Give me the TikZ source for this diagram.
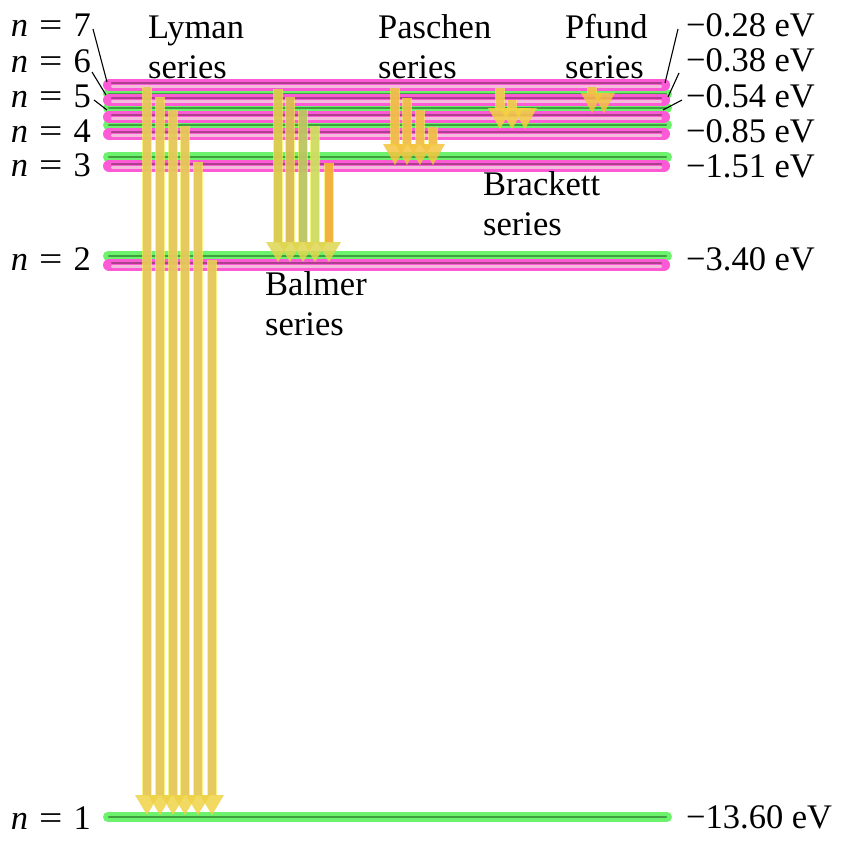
\documentclass[tikz,border=0pt]{standalone}
\usepackage{fontspec}
\setmainfont{Liberation Serif}
\usetikzlibrary{arrows.meta}
\definecolor{lgreen}{RGB}{108,242,108}
\definecolor{dgreen}{RGB}{62,160,62}
\definecolor{mag}{RGB}{255,90,214}
\definecolor{mpurple}{RGB}{172,64,142}
\definecolor{mpink}{RGB}{244,188,220}
\definecolor{lymanbar}{RGB}{228,196,90}
\definecolor{lymanhead}{RGB}{238,210,70}
\definecolor{edgey}{RGB}{246,238,80}
\definecolor{balA}{RGB}{214,198,76}
\definecolor{balB}{RGB}{214,182,86}
\definecolor{balC}{RGB}{182,192,100}
\definecolor{balD}{RGB}{202,220,100}
\definecolor{balE}{RGB}{242,168,52}
\definecolor{balhead}{RGB}{222,214,80}
\definecolor{pasbar}{RGB}{240,184,74}
\definecolor{pashead}{RGB}{244,196,64}
\definecolor{brabar}{RGB}{240,196,80}
\definecolor{brahead}{RGB}{242,210,66}
\definecolor{pfbar}{RGB}{242,190,70}
\definecolor{pfhead}{RGB}{240,196,64}
\begin{document}
\begin{tikzpicture}[x=1pt,y=-1pt,
  lbl/.style={font=\fontsize{34.5}{40}\selectfont, inner sep=0pt},
  glvl/.style={draw=lgreen, line width=10pt, line cap=round},
  glvlin/.style={draw=dgreen, line width=2.4pt, line cap=round},
  mlvl/.style={draw=mag, line width=12pt, line cap=round},
  mlvlpur/.style={draw=mpurple, line width=2.4pt, line cap=round},
  mlvlpink/.style={draw=mpink, line width=2.2pt, line cap=round},
  leader/.style={draw=black, line width=1.1pt},
  trans/.style={line width=7.5pt, opacity=0.85,
     preaction={draw=edgey, line width=9.5pt, -, shorten >=19pt, opacity=0.7}},
  lyarr/.style={trans, draw=lymanbar, -{Triangle[width=24pt,length=20pt,line width=0pt,fill=lymanhead]}},
  baarr/.style={trans, draw=#1, -{Triangle[width=24pt,length=20pt,line width=0pt,fill=balhead]}},
  paarr/.style={trans, draw=pasbar, -{Triangle[width=24pt,length=21pt,line width=0pt,fill=pashead]}},
  brarr/.style={trans, draw=brabar, -{Triangle[width=24pt,length=21pt,line width=0pt,fill=brahead]}},
  pfarr/.style={trans, draw=pfbar, -{Triangle[width=22pt,length=20pt,line width=0pt,fill=pfhead]}},
]
\useasboundingbox (0,0) rectangle (850,843);

% green level lines
\foreach \y in {817,256,157,125,108,94} {
  \draw[glvl] (108,\y) -- (667,\y);
  \draw[glvlin] (109,\y) -- (666,\y);
}
% magenta level lines
\foreach \y in {265,166,134,117,100,85} {
  \draw[mlvl] (109,\y) -- (664,\y);
  \draw[mlvlpur] (112,\y-1.8) -- (661,\y-1.8);
  \draw[mlvlpink] (112,\y+1.4) -- (661,\y+1.4);
}

% left labels
\node[lbl, anchor=base east] (n7) at (91,37) {\textit{n}\hspace{11pt}\scalebox{1.2}[1]{=}\hspace{11pt}7};
\node[lbl, anchor=base east] (n6) at (91,72) {\textit{n}\hspace{11pt}\scalebox{1.2}[1]{=}\hspace{11pt}6};
\node[lbl, anchor=base east] (n5) at (91,107) {\textit{n}\hspace{11pt}\scalebox{1.2}[1]{=}\hspace{11pt}5};
\node[lbl, anchor=base east] (n4) at (91,142) {\textit{n}\hspace{11pt}\scalebox{1.2}[1]{=}\hspace{11pt}4};
\node[lbl, anchor=base east] (n3) at (91,176) {\textit{n}\hspace{11pt}\scalebox{1.2}[1]{=}\hspace{11pt}3};
\node[lbl, anchor=base east] (n2) at (91,270) {\textit{n}\hspace{11pt}\scalebox{1.2}[1]{=}\hspace{11pt}2};
\node[lbl, anchor=base east] (n1) at (91,829) {\textit{n}\hspace{11pt}\scalebox{1.2}[1]{=}\hspace{11pt}1};

% right labels
\node[lbl, anchor=base west] (e7) at (686,37) {−0.28 eV};
\node[lbl, anchor=base west] (e6) at (686,71) {−0.38 eV};
\node[lbl, anchor=base west] (e5) at (686,107) {−0.54 eV};
\node[lbl, anchor=base west] (e4) at (686,142) {−0.85 eV};
\node[lbl, anchor=base west] (e3) at (686,177) {−1.51 eV};
\node[lbl, anchor=base west] (e2) at (686,270) {−3.40 eV};
\node[lbl, anchor=base west] (e1) at (686,828) {−13.60 eV};

% leader lines
\coordinate (l7a) at (93,29);  \coordinate (l7b) at (107,82);
\coordinate (l6a) at (92,72);  \coordinate (l6b) at (106,95);
\coordinate (l5a) at (94,100); \coordinate (l5b) at (107,110);
\coordinate (r7a) at (678,29); \coordinate (r7b) at (665,83);
\coordinate (r6a) at (679,73); \coordinate (r6b) at (668,97);
\coordinate (r5a) at (682,100);\coordinate (r5b) at (663,110);
\draw[leader] (l7a) -- (l7b);
\draw[leader] (l6a) -- (l6b);
\draw[leader] (l5a) -- (l5b);
\draw[leader] (r7a) -- (r7b);
\draw[leader] (r6a) -- (r6b);
\draw[leader] (r5a) -- (r5b);

% series labels (anchor at baseline of last line)
\node[lbl, anchor=base west, align=left] (lyman) at (148,78) {Lyman\\series};
\node[lbl, anchor=base west, align=left] (paschen) at (378,78) {Paschen\\series};
\node[lbl, anchor=base west, align=left] (pfund) at (565,78) {Pfund\\series};
\node[lbl, anchor=base west, align=left] (brackett) at (483,235) {Brackett\\series};
\node[lbl, anchor=base west, align=left] (balmer) at (265,335) {Balmer\\series};

% Lyman series
\coordinate (ly1s) at (147,87);  \coordinate (ly1e) at (147,815);
\coordinate (ly2s) at (160,97);  \coordinate (ly2e) at (160,815);
\coordinate (ly3s) at (173,110); \coordinate (ly3e) at (173,815);
\coordinate (ly4s) at (185,126); \coordinate (ly4e) at (185,815);
\coordinate (ly5s) at (198,162); \coordinate (ly5e) at (198,815);
\coordinate (ly6s) at (212,260); \coordinate (ly6e) at (212,815);
\foreach \i in {1,...,6} { \draw[lyarr] (ly\i s) -- (ly\i e); }

% Balmer series
\coordinate (ba1s) at (278,89);  \coordinate (ba1e) at (278,262);
\coordinate (ba2s) at (290,97);  \coordinate (ba2e) at (290,262);
\coordinate (ba3s) at (303,110); \coordinate (ba3e) at (303,262);
\coordinate (ba4s) at (315,126); \coordinate (ba4e) at (315,262);
\coordinate (ba5s) at (329,163); \coordinate (ba5e) at (329,262);
\draw[baarr=balA] (ba1s) -- (ba1e);
\draw[baarr=balB] (ba2s) -- (ba2e);
\draw[baarr=balC] (ba3s) -- (ba3e);
\draw[baarr=balD] (ba4s) -- (ba4e);
\draw[baarr=balE] (ba5s) -- (ba5e);

% Paschen series
\coordinate (pa1s) at (395,88);  \coordinate (pa1e) at (395,165);
\coordinate (pa2s) at (407,98);  \coordinate (pa2e) at (407,165);
\coordinate (pa3s) at (420,110); \coordinate (pa3e) at (420,165);
\coordinate (pa4s) at (433,127); \coordinate (pa4e) at (433,165);
\foreach \i in {1,...,4} { \draw[paarr] (pa\i s) -- (pa\i e); }

% Brackett series
\coordinate (br1s) at (500,88);  \coordinate (br1e) at (500,129);
\coordinate (br2s) at (512,100); \coordinate (br2e) at (512,129);
\coordinate (br3s) at (525,108); \coordinate (br3e) at (525,129);
\foreach \i in {1,...,3} { \draw[brarr] (br\i s) -- (br\i e); }

% Pfund series
\coordinate (pf1s) at (592,87);  \coordinate (pf1e) at (592,113);
\coordinate (pf2s) at (604,93);  \coordinate (pf2e) at (604,113);
\foreach \i in {1,2} { \draw[pfarr] (pf\i s) -- (pf\i e); }
\end{tikzpicture}
\end{document}
